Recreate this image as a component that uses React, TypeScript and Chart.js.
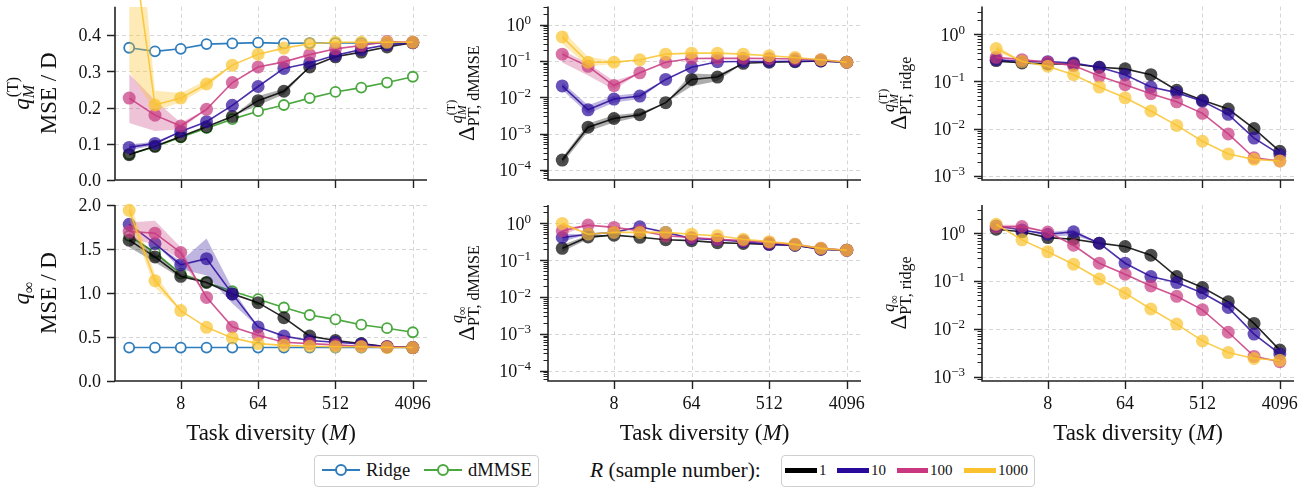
import React, { useEffect, useRef } from "react";
import { Chart, registerables } from "chart.js";

Chart.register(...registerables);

// ---------------- data ----------------
const N = null;
const M_VALUES = [2, 4, 8, 16, 32, 64, 128, 256, 512, 1024, 2048, 4096];
const X_TICKS = [8, 64, 512, 4096];
const X_TICK_LABELS = ["8", "64", "512", "4096"];
const R_LABELS = ["1", "10", "100", "1000"];
const LEGEND_LINES = ["Ridge", "dMMSE"];

const TL_TICKS = [0, 0.1, 0.2, 0.3, 0.4];
const TL_TICK_LABELS = ["0.0", "0.1", "0.2", "0.3", "0.4"];
const BL_TICKS = [0, 0.5, 1.0, 1.5, 2.0];
const BL_TICK_LABELS = ["0.0", "0.5", "1.0", "1.5", "2.0"];
const MID_TICKS = [1e-4, 1e-3, 1e-2, 1e-1, 1];
const MID_TICK_EXP = ["\u22124", "\u22123", "\u22122", "\u22121", "0"];
const RIGHT_TICKS = [1e-3, 1e-2, 1e-1, 1];
const RIGHT_TICK_EXP = ["\u22123", "\u22122", "\u22121", "0"];

// top-left: q_M^(T) MSE / D
const tlRidge = [0.365, 0.355, 0.362, 0.375, 0.377, 0.379, 0.377, 0.378, 0.378, 0.378, 0.379, 0.378];
const tlDmmse = [0.071, 0.092, 0.118, 0.143, 0.168, 0.19, 0.207, 0.226, 0.243, 0.255, 0.269, 0.285];
const tlR1 = [0.07, 0.093, 0.12, 0.147, 0.175, 0.219, 0.245, 0.312, 0.34, 0.353, 0.367, 0.379];
const tlR10 = [0.09, 0.101, 0.134, 0.161, 0.206, 0.258, 0.308, 0.323, 0.344, 0.36, 0.373, 0.379];
const tlR100 = [0.226, 0.179, 0.149, 0.195, 0.269, 0.312, 0.326, 0.346, 0.362, 0.371, 0.382, 0.38];
const tlR1000 = [0.72, 0.207, 0.226, 0.265, 0.317, 0.347, 0.364, 0.376, 0.38, 0.38, 0.38, 0.38];
const tlR1Lo = [N, N, N, N, N, 0.206, 0.236, N, N, N, N, N];
const tlR1Hi = [N, N, N, N, N, 0.232, 0.252, N, N, N, N, N];
const tlR10Lo = [0.082, 0.096, N, N, N, N, N, N, N, N, N, N];
const tlR10Hi = [0.098, 0.106, N, N, N, N, N, N, N, N, N, N];
const tlR100Lo = [0.157, 0.135, 0.14, N, N, N, N, N, N, N, N, N];
const tlR100Hi = [0.293, 0.22, 0.158, N, N, N, N, N, N, N, N, N];
const tlR1000Lo = [0.3, 0.19, 0.215, 0.255, N, N, N, N, N, N, N, N];
const tlR1000Hi = [1.0, 0.246, 0.24, 0.275, N, N, N, N, N, N, N, N];

// bottom-left: q_inf MSE / D
const blRidge = [0.38, 0.38, 0.38, 0.38, 0.38, 0.38, 0.38, 0.38, 0.38, 0.38, 0.38, 0.38];
const blDmmse = [1.65, 1.46, 1.22, 1.12, 1.02, 0.93, 0.835, 0.75, 0.7, 0.64, 0.6, 0.554];
const blR1 = [1.6, 1.41, 1.19, 1.12, 0.99, 0.89, 0.72, 0.51, 0.46, 0.425, 0.39, 0.38];
const blR10 = [1.78, 1.56, 1.32, 1.39, 0.99, 0.615, 0.51, 0.46, 0.44, 0.42, 0.39, 0.38];
const blR100 = [1.7, 1.68, 1.46, 0.95, 0.615, 0.52, 0.44, 0.425, 0.41, 0.395, 0.39, 0.38];
const blR1000 = [1.94, 1.14, 0.8, 0.61, 0.49, 0.425, 0.405, 0.395, 0.39, 0.39, 0.38, 0.38];
const blR1Lo = [1.52, 1.35, 1.17, N, N, N, N, N, N, N, N, N];
const blR1Hi = [1.68, 1.46, 1.22, N, N, N, N, N, N, N, N, N];
const blR10Lo = [N, N, 1.27, 1.2, 0.88, N, N, N, N, N, N, N];
const blR10Hi = [N, N, 1.36, 1.62, 1.05, N, N, N, N, N, N, N];
const blR100Lo = [1.62, 1.55, 1.38, N, N, N, N, N, N, N, N, N];
const blR100Hi = [1.8, 1.82, 1.52, N, N, N, N, N, N, N, N, N];
const blR1000Lo = [1.85, 1.06, N, N, N, N, N, N, N, N, N, N];
const blR1000Hi = [2.05, 1.22, N, N, N, N, N, N, N, N, N, N];

// top-middle: Delta^{q_M^(T)}_{PT, dMMSE}
const tmR1 = [1.86e-4, 1.5e-3, 2.6e-3, 3.3e-3, 7.1e-3, 0.031, 0.036, 0.086, 0.092, 0.095, 0.1, 0.092];
const tmR10 = [0.0205, 0.0045, 0.0089, 0.0108, 0.031, 0.067, 0.095, 0.097, 0.097, 0.098, 0.1, 0.092];
const tmR100 = [0.154, 0.071, 0.021, 0.047, 0.092, 0.117, 0.118, 0.118, 0.117, 0.113, 0.108, 0.092];
const tmR1000 = [0.46, 0.092, 0.092, 0.108, 0.154, 0.164, 0.164, 0.154, 0.139, 0.125, 0.108, 0.092];
const tmR1Lo = [1.5e-4, 1.15e-3, 2.0e-3, 2.9e-3, N, 0.02, 0.028, N, N, N, N, N];
const tmR1Hi = [2.2e-4, 1.9e-3, 3.2e-3, 3.8e-3, N, 0.045, 0.042, N, N, N, N, N];
const tmR10Lo = [0.016, 0.0035, 0.0072, 0.009, N, N, N, N, N, N, N, N];
const tmR10Hi = [0.026, 0.006, 0.011, 0.013, N, N, N, N, N, N, N, N];
const tmR100Lo = [0.09, 0.04, 0.016, N, N, N, N, N, N, N, N, N];
const tmR100Hi = [0.2, 0.085, 0.028, N, N, N, N, N, N, N, N, N];
const tmR1000Lo = [0.3, 0.07, 0.082, N, N, N, N, N, N, N, N, N];
const tmR1000Hi = [0.7, 0.13, 0.1, N, N, N, N, N, N, N, N, N];

// bottom-middle: Delta^{q_inf}_{PT, dMMSE}
const bmR1 = [0.21, 0.43, 0.48, 0.42, 0.36, 0.34, 0.3, 0.285, 0.27, 0.255, 0.2, 0.187];
const bmR10 = [0.415, 0.51, 0.57, 0.81, 0.57, 0.39, 0.36, 0.32, 0.27, 0.255, 0.2, 0.187];
const bmR100 = [0.63, 0.9, 0.78, 0.63, 0.46, 0.415, 0.37, 0.34, 0.3, 0.27, 0.21, 0.187];
const bmR1000 = [1.0, 0.51, 0.57, 0.57, 0.57, 0.51, 0.46, 0.37, 0.32, 0.27, 0.21, 0.187];
const bmR1Lo = [0.17, 0.38, N, N, N, N, N, N, N, N, N, N];
const bmR1Hi = [0.26, 0.48, N, N, N, N, N, N, N, N, N, N];
const bmR10Lo = [0.32, N, N, N, N, N, N, N, N, N, N, N];
const bmR10Hi = [0.52, N, N, N, N, N, N, N, N, N, N, N];
const bmR100Lo = [0.48, N, N, N, N, N, N, N, N, N, N, N];
const bmR100Hi = [0.78, N, N, N, N, N, N, N, N, N, N, N];
const bmR1000Lo = [0.85, N, N, N, N, N, N, N, N, N, N, N];
const bmR1000Hi = [1.1, N, N, N, N, N, N, N, N, N, N, N];

// top-right: Delta^{q_M^(T)}_{PT, ridge}
const trR1 = [0.277, 0.247, 0.235, 0.235, 0.2, 0.185, 0.139, 0.065, 0.04, 0.026, 0.01, 0.0033];
const trR10 = [0.29, 0.263, 0.263, 0.247, 0.2, 0.139, 0.076, 0.058, 0.038, 0.0201, 0.0063, 0.00284];
const trR100 = [0.325, 0.29, 0.255, 0.217, 0.13, 0.0855, 0.055, 0.037, 0.0211, 0.0077, 0.0024, 0.00206];
const trR1000 = [0.5, 0.264, 0.21, 0.139, 0.076, 0.045, 0.0237, 0.0117, 0.0054, 0.0029, 0.00223, 0.00206];
const trR1Lo = [0.25, N, N, N, N, N, N, N, N, N, N, N];
const trR1Hi = [0.31, N, N, N, N, N, N, N, N, N, N, N];
const trR1000Lo = [0.42, N, N, N, N, N, N, N, N, N, N, N];
const trR1000Hi = [0.6, N, N, N, N, N, N, N, N, N, N, N];

// bottom-right: Delta^{q_inf}_{PT, ridge}
const brR1 = [1.21, 1.07, 0.81, 0.75, 0.62, 0.527, 0.347, 0.124, 0.073, 0.0368, 0.013, 0.0036];
const brR10 = [1.42, 1.17, 0.95, 1.07, 0.62, 0.236, 0.124, 0.093, 0.056, 0.028, 0.0078, 0.003];
const brR100 = [1.36, 1.38, 1.06, 0.56, 0.236, 0.139, 0.079, 0.048, 0.025, 0.0085, 0.00266, 0.00206];
const brR1000 = [1.54, 0.726, 0.408, 0.225, 0.11, 0.056, 0.026, 0.0126, 0.0056, 0.0032, 0.0024, 0.0022];
const brR10Lo = [N, N, 0.85, 0.9, N, N, N, N, N, N, N, N];
const brR10Hi = [N, N, 1.05, 1.2, N, N, N, N, N, N, N, N];
const brR100Lo = [1.2, 1.25, N, N, N, N, N, N, N, N, N, N];
const brR100Hi = [1.5, 1.5, N, N, N, N, N, N, N, N, N, N];

// ---------------- styles ----------------
const SERIF = '"Liberation Serif", serif';
const C_RIDGE = "#2f7dbd";
const C_DMMSE = "#4aa83f";
const R_RGB = ["0,0,0", "42,10,154", "200,55,127", "250,195,45"];
const R_SOLID = ["#000000", "#2a0a9a", "#c8377f", "#f9c22e"];
const BAND_ALPHA = [0.32, 0.3, 0.3, 0.35];
const AXIS_COLOR = "#222222";
const TEXT_COLOR = "#111111";
const GRID_COLOR = "rgba(0,0,0,0.16)";
const TICK_FONT = 18;
const SUP_FONT = 13;

type Seg = { t: string; s: number; it?: boolean; dy?: number; at?: number; dx?: number };

const fontStr = (s: number, it?: boolean) => `${it ? "italic " : "normal "}${s}px ${SERIF}`;

function drawSegs(ctx: CanvasRenderingContext2D, segs: Seg[], cx: number, cy: number, rotate: boolean) {
  const xs: number[] = [];
  let cursor = 0;
  let total = 0;
  segs.forEach((sg) => {
    ctx.font = fontStr(sg.s, sg.it);
    const w = ctx.measureText(sg.t).width;
    const x = (sg.at !== undefined ? xs[sg.at] : cursor) + (sg.dx || 0);
    xs.push(x);
    cursor = x + w;
    total = Math.max(total, x + w);
  });
  ctx.save();
  ctx.translate(cx, cy);
  if (rotate) ctx.rotate(-Math.PI / 2);
  ctx.textBaseline = "alphabetic";
  ctx.textAlign = "left";
  ctx.fillStyle = TEXT_COLOR;
  segs.forEach((sg, i) => {
    ctx.font = fontStr(sg.s, sg.it);
    ctx.fillText(sg.t, xs[i] - total / 2, sg.dy || 0);
  });
  ctx.restore();
}

const SEG_QT: Seg[] = [
  { t: "q", s: 23, it: true },
  { t: "M", s: 16, it: true, dy: 5 },
  { t: "(T)", s: 16, dy: -11, at: 1, dx: 1 },
];
const SEG_QINF: Seg[] = [
  { t: "q", s: 23, it: true },
  { t: "\u221E", s: 16, dy: 5 },
];
const SEG_MSE: Seg[] = [{ t: "MSE / D", s: 23 }];
const deltaT = (sub: string): Seg[] => [
  { t: "\u0394", s: 23 },
  { t: sub, s: 16, dy: 5 },
  { t: "q", s: 16, it: true, dy: -12, at: 1, dx: 3 },
  { t: "M", s: 12, it: true, dy: -8 },
  { t: "(T)", s: 12, dy: -19, at: 3 },
];
const deltaInf = (sub: string): Seg[] => [
  { t: "\u0394", s: 23 },
  { t: sub, s: 16, dy: 5 },
  { t: "q", s: 16, it: true, dy: -12, at: 1, dx: 3 },
  { t: "\u221E", s: 12, dy: -8 },
];
const SEG_XTITLE: Seg[] = [
  { t: "Task diversity (", s: 23 },
  { t: "M", s: 23, it: true },
  { t: ")", s: 23 },
];

interface Series {
  vals: number[];
  lo?: (number | null)[];
  hi?: (number | null)[];
}
interface PanelSpec {
  key: string;
  box: number[];
  area: number[];
  log: boolean;
  yMin: number;
  yMax: number;
  yTicks: number[];
  yLabels: string[];
  xLabels: boolean;
  titles: { off: number; segs: Seg[] }[];
  ridge?: number[];
  dmmse?: number[];
  series: Series[];
}

function makePlugin(spec: PanelSpec) {
  return {
    id: "customAxes",
    beforeDatasetsDraw(chart: any) {
      const { ctx, chartArea: a } = chart;
      const xs = chart.scales.x;
      const ys = chart.scales.y;
      ctx.save();
      ctx.strokeStyle = GRID_COLOR;
      ctx.lineWidth = 1;
      ctx.setLineDash([4, 3]);
      ctx.beginPath();
      for (const v of X_TICKS) {
        const px = Math.round(xs.getPixelForValue(v)) + 0.5;
        ctx.moveTo(px, a.top);
        ctx.lineTo(px, a.bottom);
      }
      for (const v of spec.yTicks) {
        const py = Math.round(ys.getPixelForValue(v)) + 0.5;
        if (py > a.bottom - 2) continue;
        ctx.moveTo(a.left, py);
        ctx.lineTo(a.right, py);
      }
      ctx.stroke();
      ctx.restore();
    },
    afterDraw(chart: any) {
      const { ctx, chartArea: a } = chart;
      const xs = chart.scales.x;
      const ys = chart.scales.y;
      ctx.save();
      ctx.setLineDash([]);
      ctx.strokeStyle = AXIS_COLOR;
      ctx.lineCap = "butt";
      ctx.lineWidth = 1.6;
      ctx.beginPath();
      ctx.moveTo(a.left, a.top);
      ctx.lineTo(a.left, a.bottom);
      ctx.lineTo(a.right, a.bottom);
      ctx.stroke();
      ctx.lineWidth = 1.4;
      ctx.beginPath();
      for (const v of X_TICKS) {
        const px = Math.round(xs.getPixelForValue(v)) + 0.5;
        ctx.moveTo(px, a.bottom);
        ctx.lineTo(px, a.bottom + 8);
      }
      for (const v of spec.yTicks) {
        const py = Math.round(ys.getPixelForValue(v)) + 0.5;
        ctx.moveTo(a.left - 8, py);
        ctx.lineTo(a.left, py);
      }
      ctx.stroke();
      if (spec.log) {
        ctx.lineWidth = 1;
        ctx.beginPath();
        const e0 = Math.floor(Math.log10(spec.yMin));
        const e1 = Math.ceil(Math.log10(spec.yMax));
        for (let e = e0; e <= e1; e++) {
          for (let m = 2; m <= 9; m++) {
            const v = m * Math.pow(10, e);
            if (v < spec.yMin || v > spec.yMax) continue;
            const py = Math.round(ys.getPixelForValue(v)) + 0.5;
            ctx.moveTo(a.left - 4.5, py);
            ctx.lineTo(a.left, py);
          }
        }
        ctx.stroke();
      }
      ctx.fillStyle = TEXT_COLOR;
      ctx.textBaseline = "alphabetic";
      spec.yTicks.forEach((v, i) => {
        const py = ys.getPixelForValue(v);
        if (spec.log) {
          ctx.font = fontStr(TICK_FONT);
          const w1 = ctx.measureText("10").width;
          ctx.font = fontStr(SUP_FONT);
          const w2 = ctx.measureText(spec.yLabels[i]).width;
          const x0 = a.left - 17 - w1 - w2;
          ctx.textAlign = "left";
          ctx.font = fontStr(TICK_FONT);
          ctx.fillText("10", x0, py + 6.3);
          ctx.font = fontStr(SUP_FONT);
          ctx.fillText(spec.yLabels[i], x0 + w1, py - 0.5);
        } else {
          ctx.textAlign = "right";
          ctx.font = fontStr(TICK_FONT);
          ctx.fillText(spec.yLabels[i], a.left - 14, py + 6.3);
        }
      });
      if (spec.xLabels) {
        ctx.textAlign = "center";
        ctx.font = fontStr(TICK_FONT);
        X_TICKS.forEach((v, i) => {
          const px = xs.getPixelForValue(v);
          ctx.fillText(X_TICK_LABELS[i], px, a.bottom + 28);
        });
        drawSegs(ctx, SEG_XTITLE, (a.left + a.right) / 2, a.bottom + 59, false);
      }
      const cy = (a.top + a.bottom) / 2;
      spec.titles.forEach((tt) => drawSegs(ctx, tt.segs, a.left - tt.off, cy, true));
      ctx.restore();
    },
  };
}

function buildDatasets(spec: PanelSpec) {
  const ds: any[] = [];
  const pts = (arr: number[]) => arr.map((v, i) => ({ x: M_VALUES[i], y: v }));
  if (spec.ridge) {
    ds.push({
      data: pts(spec.ridge), borderColor: C_RIDGE, borderWidth: 1.6, pointRadius: 5,
      pointBorderWidth: 1.8, pointBackgroundColor: "#ffffff", pointBorderColor: C_RIDGE, order: 20, clip: false,
    });
  }
  if (spec.dmmse) {
    ds.push({
      data: pts(spec.dmmse), borderColor: C_DMMSE, borderWidth: 1.6, pointRadius: 5,
      pointBorderWidth: 1.8, pointBackgroundColor: "#ffffff", pointBorderColor: C_DMMSE, order: 19, clip: false,
    });
  }
  spec.series.forEach((s, j) => {
    const rgb = R_RGB[j];
    const base = 16 - j * 4;
    if (s.lo && s.hi) {
      const lo = s.lo.map((v, i) => (v === null ? s.vals[i] : v));
      const hi = s.hi.map((v, i) => (v === null ? s.vals[i] : v));
      ds.push({ data: pts(lo), borderWidth: 0, borderColor: "rgba(0,0,0,0)", pointRadius: 0, fill: false, order: base });
      ds.push({
        data: pts(hi), borderWidth: 0, borderColor: "rgba(0,0,0,0)", pointRadius: 0, fill: "-1",
        backgroundColor: `rgba(${rgb},${BAND_ALPHA[j]})`, order: base,
      });
    }
    ds.push({
      data: pts(s.vals), borderColor: `rgba(${rgb},0.85)`, borderWidth: 1.6, pointRadius: 6.5,
      pointBorderWidth: 0, pointBorderColor: "rgba(0,0,0,0)", pointBackgroundColor: `rgba(${rgb},0.7)`,
      order: base - 1, clip: false,
    });
  });
  return ds;
}

function buildConfig(spec: PanelSpec): any {
  const [bx, by, bw, bh] = spec.box;
  const [l, t, r, b] = spec.area;
  const yW = l - bx;
  const xH = by + bh - b;
  return {
    type: "line",
    data: { datasets: buildDatasets(spec) },
    options: {
      responsive: false,
      animation: false,
      devicePixelRatio: 1,
      events: [],
      layout: { padding: { left: 0, top: t - by, right: bx + bw - r, bottom: 0 } },
      plugins: { legend: { display: false }, tooltip: { enabled: false } },
      elements: { line: { tension: 0 } },
      scales: {
        x: {
          type: "logarithmic",
          bounds: "data",
          min: Math.pow(2, 0.45),
          max: Math.pow(2, 12.55),
          grid: { display: false },
          border: { display: false },
          ticks: { display: false },
          afterFit: (s: any) => { s.height = xH; },
        },
        y: {
          type: spec.log ? "logarithmic" : "linear",
          bounds: "data",
          min: spec.yMin,
          max: spec.yMax,
          grid: { display: false },
          border: { display: false },
          ticks: { display: false },
          afterFit: (s: any) => { s.width = yW; },
        },
      },
    },
    plugins: [makePlugin(spec)],
  };
}

const COLS = [
  { x: 0, w: 440, l: 115, r: 427 },
  { x: 440, w: 435, l: 548, r: 861 },
  { x: 875, w: 439, l: 982, r: 1294 },
];
const ROWS = [
  { y: 0, h: 190, t: 4, b: 180 },
  { y: 190, h: 260, t: 205, b: 381 },
];
const geom = (c: number, rr: number) => ({
  box: [COLS[c].x, ROWS[rr].y, COLS[c].w, ROWS[rr].h],
  area: [COLS[c].l, ROWS[rr].t, COLS[c].r, ROWS[rr].b],
});

const MID_MIN = Math.pow(10, -4.28);
const MID_MAX = Math.pow(10, 0.5);
const RIGHT_MIN = Math.pow(10, -3.09);
const RIGHT_MAX = Math.pow(10, 0.59);

const PANELS: PanelSpec[] = [
  {
    key: "tl", ...geom(0, 0), log: false, yMin: 0, yMax: 0.478, yTicks: TL_TICKS, yLabels: TL_TICK_LABELS,
    xLabels: false, titles: [{ off: 86, segs: SEG_QT }, { off: 59, segs: SEG_MSE }],
    ridge: tlRidge, dmmse: tlDmmse,
    series: [
      { vals: tlR1, lo: tlR1Lo, hi: tlR1Hi },
      { vals: tlR10, lo: tlR10Lo, hi: tlR10Hi },
      { vals: tlR100, lo: tlR100Lo, hi: tlR100Hi },
      { vals: tlR1000, lo: tlR1000Lo, hi: tlR1000Hi },
    ],
  },
  {
    key: "bl", ...geom(0, 1), log: false, yMin: 0, yMax: 2.0, yTicks: BL_TICKS, yLabels: BL_TICK_LABELS,
    xLabels: true, titles: [{ off: 86, segs: SEG_QINF }, { off: 59, segs: SEG_MSE }],
    ridge: blRidge, dmmse: blDmmse,
    series: [
      { vals: blR1, lo: blR1Lo, hi: blR1Hi },
      { vals: blR10, lo: blR10Lo, hi: blR10Hi },
      { vals: blR100, lo: blR100Lo, hi: blR100Hi },
      { vals: blR1000, lo: blR1000Lo, hi: blR1000Hi },
    ],
  },
  {
    key: "tm", ...geom(1, 0), log: true, yMin: MID_MIN, yMax: MID_MAX, yTicks: MID_TICKS, yLabels: MID_TICK_EXP,
    xLabels: false, titles: [{ off: 74, segs: deltaT("PT, dMMSE") }],
    series: [
      { vals: tmR1, lo: tmR1Lo, hi: tmR1Hi },
      { vals: tmR10, lo: tmR10Lo, hi: tmR10Hi },
      { vals: tmR100, lo: tmR100Lo, hi: tmR100Hi },
      { vals: tmR1000, lo: tmR1000Lo, hi: tmR1000Hi },
    ],
  },
  {
    key: "bm", ...geom(1, 1), log: true, yMin: MID_MIN, yMax: MID_MAX, yTicks: MID_TICKS, yLabels: MID_TICK_EXP,
    xLabels: true, titles: [{ off: 74, segs: deltaInf("PT, dMMSE") }],
    series: [
      { vals: bmR1, lo: bmR1Lo, hi: bmR1Hi },
      { vals: bmR10, lo: bmR10Lo, hi: bmR10Hi },
      { vals: bmR100, lo: bmR100Lo, hi: bmR100Hi },
      { vals: bmR1000, lo: bmR1000Lo, hi: bmR1000Hi },
    ],
  },
  {
    key: "tr", ...geom(2, 0), log: true, yMin: RIGHT_MIN, yMax: RIGHT_MAX, yTicks: RIGHT_TICKS, yLabels: RIGHT_TICK_EXP,
    xLabels: false, titles: [{ off: 76, segs: deltaT("PT, ridge") }],
    series: [
      { vals: trR1, lo: trR1Lo, hi: trR1Hi },
      { vals: trR10 },
      { vals: trR100 },
      { vals: trR1000, lo: trR1000Lo, hi: trR1000Hi },
    ],
  },
  {
    key: "br", ...geom(2, 1), log: true, yMin: RIGHT_MIN, yMax: RIGHT_MAX, yTicks: RIGHT_TICKS, yLabels: RIGHT_TICK_EXP,
    xLabels: true, titles: [{ off: 76, segs: deltaInf("PT, ridge") }],
    series: [
      { vals: brR1 },
      { vals: brR10, lo: brR10Lo, hi: brR10Hi },
      { vals: brR100, lo: brR100Lo, hi: brR100Hi },
      { vals: brR1000 },
    ],
  },
];

function Panel({ spec }: { spec: PanelSpec }) {
  const ref = useRef<HTMLCanvasElement>(null);
  useEffect(() => {
    const chart = new Chart(ref.current as HTMLCanvasElement, buildConfig(spec));
    return () => chart.destroy();
  }, [spec]);
  const [x, y, w, h] = spec.box;
  return (
    <canvas
      ref={ref}
      width={w}
      height={h}
      style={{ position: "absolute", left: x, top: y, width: w, height: h }}
    />
  );
}

const LEG_Y = 470;

function LegText({ left, size, children }: { left: number; size: number; children: any }) {
  return (
    <div
      style={{
        position: "absolute", left, top: LEG_Y - 15, height: 30, lineHeight: "30px",
        fontSize: size, fontFamily: SERIF, color: TEXT_COLOR, whiteSpace: "nowrap",
      }}
    >
      {children}
    </div>
  );
}

function LineMarker({ x1, x2, color }: { x1: number; x2: number; color: string }) {
  const cx = (x1 + x2) / 2;
  return (
    <>
      <div style={{ position: "absolute", left: x1, top: LEG_Y - 1, width: x2 - x1, height: 2, background: color }} />
      <div
        style={{
          position: "absolute", left: cx - 6, top: LEG_Y - 6, width: 12, height: 12, boxSizing: "border-box",
          border: `2px solid ${color}`, borderRadius: "50%", background: "#fff",
        }}
      />
    </>
  );
}

const R_SWATCH_X = [785, 837, 897, 964];
const R_SWATCH_W = [32, 32, 31, 32];

export default function App() {
  return (
    <div style={{ position: "absolute", left: 0, top: 0, width: 1314, height: 488, background: "#fff", overflow: "hidden" }}>
      {PANELS.map((p) => (
        <Panel key={p.key} spec={p} />
      ))}
      <div
        style={{
          position: "absolute", left: 314, top: 455, width: 225, height: 32, boxSizing: "border-box",
          border: "1.5px solid #cfcfcf", borderRadius: 4, background: "#fff",
        }}
      />
      <LineMarker x1={322} x2={360} color={C_RIDGE} />
      <LegText left={366} size={18.5}>{LEGEND_LINES[0]}</LegText>
      <LineMarker x1={424} x2={462} color={C_DMMSE} />
      <LegText left={468} size={18.5}>{LEGEND_LINES[1]}</LegText>
      <LegText left={590} size={21.5}>
        <span style={{ fontStyle: "italic" }}>R</span> (sample number):
      </LegText>
      <div
        style={{
          position: "absolute", left: 781, top: 455, width: 254, height: 32, boxSizing: "border-box",
          border: "1.5px solid #cfcfcf", borderRadius: 4, background: "#fff",
        }}
      />
      {R_LABELS.map((lab, i) => (
        <React.Fragment key={lab}>
          <div
            style={{
              position: "absolute", left: R_SWATCH_X[i], top: LEG_Y - 2.5, width: R_SWATCH_W[i], height: 5,
              background: R_SOLID[i],
            }}
          />
          <LegText left={R_SWATCH_X[i] + R_SWATCH_W[i] + 2} size={15}>{lab}</LegText>
        </React.Fragment>
      ))}
    </div>
  );
}
